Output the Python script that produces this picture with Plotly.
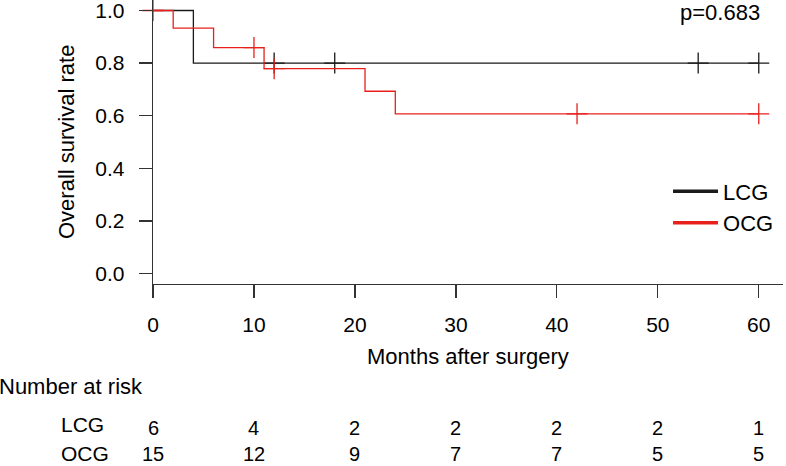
import plotly.graph_objects as go

# ---- data ----
lcg_time = [0, 4, 60]
lcg_surv = [1.0, 0.8, 0.8]
lcg_censor = [12, 18, 54, 60]

ocg_time = [0, 2, 6, 11, 21, 24, 60]
ocg_surv = [1.0, 0.933, 0.859, 0.779, 0.693, 0.607, 0.607]
ocg_censor = [0, 10, 12, 42, 60]

risk_times = [0, 10, 20, 30, 40, 50, 60]
risk_lcg = [6, 4, 2, 2, 2, 2, 1]
risk_ocg = [15, 12, 9, 7, 7, 5, 5]

x_ticks = [0, 10, 20, 30, 40, 50, 60]
y_ticks = [0.0, 0.2, 0.4, 0.6, 0.8, 1.0]
p_text = "p=0.683"


def step_at(times, surv, t):
    val = surv[0]
    for ti, si in zip(times, surv):
        if ti <= t:
            val = si
    return val


BLACK = "#1a1a1a"
RED = "#e8201c"
FONT = "Liberation Sans, Arial, Helvetica, sans-serif"

fig = go.Figure()

groups = [
    ("LCG", lcg_time, lcg_surv, lcg_censor, BLACK),
    ("OCG", ocg_time, ocg_surv, ocg_censor, RED),
]
for name, t, s, c, col in groups:
    fig.add_trace(go.Scatter(x=t, y=s, mode="lines", line=dict(color=col, width=1.3, shape="hv"),
                             showlegend=False, hoverinfo="skip"))
    fig.add_trace(go.Scatter(x=c, y=[step_at(t, s, ci) for ci in c], mode="markers",
                             marker=dict(symbol="cross-thin", size=15, line=dict(color=col, width=1.3)),
                             showlegend=False, cliponaxis=False, hoverinfo="skip"))
for name, t, s, c, col in groups:
    fig.add_trace(go.Scatter(x=[None], y=[None], mode="lines", name=name,
                             line=dict(color=col, width=3.5)))

annotations = []
annotations.append(dict(text=p_text, xref="paper", yref="paper", x=0.9667, y=(284 - 12) / 284,
                        xanchor="right", yanchor="middle", showarrow=False,
                        font=dict(size=22, color="black", family=FONT)))
annotations.append(dict(text="Months after surgery", xref="paper", yref="paper", x=0.5,
                        y=(284 - 356) / 284, xanchor="center", yanchor="middle", showarrow=False,
                        font=dict(size=22, color="black", family=FONT)))
annotations.append(dict(text="Overall survival rate", xref="paper", yref="paper",
                        x=(66 - 153) / 630, y=0.5, textangle=-90, xanchor="center", yanchor="middle",
                        showarrow=False, font=dict(size=22, color="black", family=FONT)))
annotations.append(dict(text="Number at risk", xref="paper", yref="paper", x=-156 / 630,
                        y=(284 - 386) / 284, xanchor="left", yanchor="middle", showarrow=False,
                        font=dict(size=22, color="black", family=FONT)))
for lbl, yy in (("LCG", 424), ("OCG", 454)):
    annotations.append(dict(text=lbl, xref="paper", yref="paper", x=(60 - 153) / 630,
                            y=(284 - yy) / 284, xanchor="left", yanchor="middle", showarrow=False,
                            borderpad=0, font=dict(size=21, color="black", family=FONT)))
for vals, yy in ((risk_lcg, 428), (risk_ocg, 454)):
    for tt, v in zip(risk_times, vals):
        annotations.append(dict(text=str(v), xref="x", yref="paper", x=tt, y=(284 - yy) / 284,
                                xanchor="center", yanchor="middle", showarrow=False, borderpad=0,
                                font=dict(size=20, color="black", family=FONT)))

fig.update_layout(
    width=786, height=466,
    margin=dict(l=153, r=3, t=0, b=182),
    paper_bgcolor="white", plot_bgcolor="white",
    font=dict(family=FONT, size=21, color="black"),
    xaxis=dict(range=[0, 62.4], tickvals=x_ticks, ticks="outside", ticklen=13, tickwidth=1.3,
               tickcolor="#333", showline=True, linecolor="#333", linewidth=1.3, showgrid=False,
               zeroline=False, tickfont=dict(size=21, family=FONT, color="black"),
               ticklabelstandoff=8, ticklabeloverflow="allow", fixedrange=True),
    yaxis=dict(range=[-0.04, 1.04], tickvals=y_ticks, tickformat=".1f", ticks="outside", ticklen=13,
               tickwidth=1.3, tickcolor="#333", showline=True, linecolor="#333", linewidth=1.3,
               showgrid=False, zeroline=False, tickfont=dict(size=21, family=FONT, color="black"),
               ticklabelstandoff=10, ticklabeloverflow="allow", fixedrange=True),
    legend=dict(x=0.8175, y=0.40, xanchor="left", yanchor="top", bgcolor="rgba(0,0,0,0)",
                font=dict(size=22, family=FONT, color="black"), borderwidth=0, tracegroupgap=0,
                itemwidth=45),
    annotations=annotations,
    showlegend=True,
)

fig.write_html("out.html", config={"displayModeBar": False, "staticPlot": True},
               post_script="document.body.style.margin='0';document.body.style.overflow='hidden';")
